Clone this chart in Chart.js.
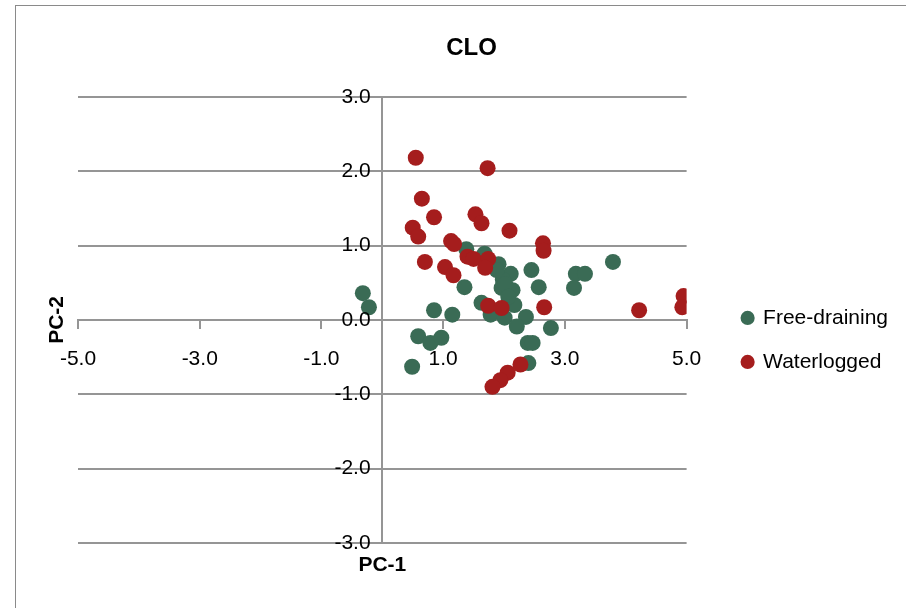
<!DOCTYPE html>
<html lang="en">
<head>
  <meta charset="UTF-8">
  <title>CLO</title>
  <script src="https://cdn.jsdelivr.net/npm/chart.js"></script>
  <style>
    body {
      margin: 0;
      background: #fff;
      overflow: hidden;
    }
    .frame {
      position: absolute;
      left: 15px;
      top: 5px;
      width: 1000px;
      height: 1000px;
      border: 1px solid #8a8a8a;
    }
    .wrap {
      position: absolute;
      left: 0;
      top: 0;
      width: 906px;
      height: 608px;
    }
  </style>
</head>
<body>

<div class="frame"></div>
<div class="wrap">
  <canvas id="pcaChart"></canvas>
</div>

<script>
// PC-1 / PC-2 scores
const freeX = [-0.32, -0.22, 0.85, 1.15, 0.59, 0.79, 0.97, 0.49, 1.38, 1.68, 1.91, 2.11,
               1.98, 1.96, 2.14, 2.45, 2.57, 1.35, 1.63, 1.78, 2.01, 2.17, 2.36, 2.21,
               2.77, 2.39, 2.47, 2.40, 3.79, 3.18, 3.33, 3.15, 1.88, 2.02, 2.07];
const freeY = [0.36, 0.17, 0.13, 0.07, -0.22, -0.31, -0.24, -0.63, 0.95, 0.89, 0.75, 0.62,
               0.54, 0.43, 0.40, 0.67, 0.44, 0.44, 0.23, 0.07, 0.03, 0.20, 0.04, -0.09,
               -0.11, -0.31, -0.31, -0.58, 0.78, 0.62, 0.62, 0.43, 0.67, 0.48, 0.31];

const waterX = [0.55, 1.73, 0.65, 0.85, 1.53, 1.63, 0.50, 0.59, 2.09, 1.13, 1.18, 2.64,
                2.65, 0.70, 1.03, 1.17, 1.40, 1.50, 1.74, 1.69, 1.74, 1.96, 2.66, 4.22,
                4.95, 4.93, 2.27, 2.06, 1.94, 1.81];
const waterY = [2.18, 2.04, 1.63, 1.38, 1.42, 1.30, 1.24, 1.12, 1.20, 1.06, 1.02, 1.03,
                0.93, 0.78, 0.71, 0.60, 0.85, 0.82, 0.82, 0.70, 0.19, 0.16, 0.17, 0.13,
                0.32, 0.17, -0.60, -0.71, -0.81, -0.90];

const xTicks = [-5, -3, -1, 1, 3, 5];
const yTicks = [-3, -2, -1, 0, 1, 2, 3];

const seriesNames = ['Free-draining', 'Waterlogged'];
const seriesColors = ['#3a6b55', '#a51d1d'];

const FONT = "'Liberation Sans', Arial, sans-serif";
const GRID = '#959595';

function toPoints(xs, ys) {
  return xs.map((x, i) => ({ x: x, y: ys[i] }));
}

// axis titles + nudge the legend to where it sits in the original
const extras = {
  id: 'extras',
  afterLayout(chart) {
    const lg = chart.legend;
    if (!lg) return;
    lg.left += 33; lg.right += 33;
    lg.top += 20; lg.bottom += 20;
  },
  afterDraw(chart) {
    const { ctx, chartArea, scales } = chart;
    ctx.save();
    ctx.fillStyle = '#000';
    ctx.font = 'bold 21px ' + FONT;
    ctx.textAlign = 'center';
    ctx.textBaseline = 'middle';
    ctx.fillText('PC-1', scales.x.getPixelForValue(0), chartArea.bottom + 22);
    ctx.translate(chartArea.left - 21, scales.y.getPixelForValue(0));
    ctx.rotate(-Math.PI / 2);
    ctx.fillText('PC-2', 0, 0);
    ctx.restore();
  }
};

new Chart(document.getElementById('pcaChart'), {
  type: 'scatter',
  data: {
    datasets: [
      {
        label: seriesNames[0],
        data: toPoints(freeX, freeY),
        backgroundColor: seriesColors[0],
        borderColor: seriesColors[0],
        borderWidth: 0,
        pointRadius: 8,
        pointHoverRadius: 8,
        order: 1
      },
      {
        label: seriesNames[1],
        data: toPoints(waterX, waterY),
        backgroundColor: seriesColors[1],
        borderColor: seriesColors[1],
        borderWidth: 0,
        pointRadius: 8,
        pointHoverRadius: 8,
        order: 0
      }
    ]
  },
  options: {
    responsive: true,
    maintainAspectRatio: false,
    animation: false,
    layout: { padding: { left: 78, right: 41, top: 0, bottom: 65 } },
    scales: {
      x: {
        type: 'linear',
        position: { y: 0 },
        min: -5,
        max: 5,
        afterBuildTicks: s => { s.ticks = xTicks.map(v => ({ value: v })); },
        grid: { drawOnChartArea: false, drawTicks: true, tickLength: 8, color: GRID, lineWidth: 2 },
        border: { display: true, color: GRID, width: 2 },
        ticks: {
          z: 1,
          padding: 19,
          color: '#000',
          font: { family: FONT, size: 21 },
          maxRotation: 0,
          callback: v => v.toFixed(1)
        }
      },
      y: {
        type: 'linear',
        position: { x: 0 },
        min: -3,
        max: 3,
        afterBuildTicks: s => { s.ticks = yTicks.map(v => ({ value: v })); },
        grid: { drawOnChartArea: true, drawTicks: true, tickLength: 8, color: GRID, lineWidth: 2 },
        border: { display: true, color: GRID, width: 2 },
        ticks: {
          z: 1,
          color: '#000',
          font: { family: FONT, size: 21 },
          // trailing spaces keep the label clear of the axis line
          callback: v => v.toFixed(1) + '  '
        }
      }
    },
    plugins: {
      title: {
        display: true,
        text: 'CLO',
        color: '#000',
        font: { family: FONT, size: 24, weight: 'bold' },
        padding: { top: 34, bottom: 34 }
      },
      legend: {
        position: 'right',
        fullSize: false,
        labels: {
          usePointStyle: true,
          pointStyle: 'circle',
          boxWidth: 10,
          boxHeight: 10,
          padding: 23,
          color: '#000',
          font: { family: FONT, size: 21 },
          sort: (a, b) => a.datasetIndex - b.datasetIndex
        }
      },
      tooltip: { enabled: false }
    }
  },
  plugins: [extras]
});
</script>

</body>
</html>
